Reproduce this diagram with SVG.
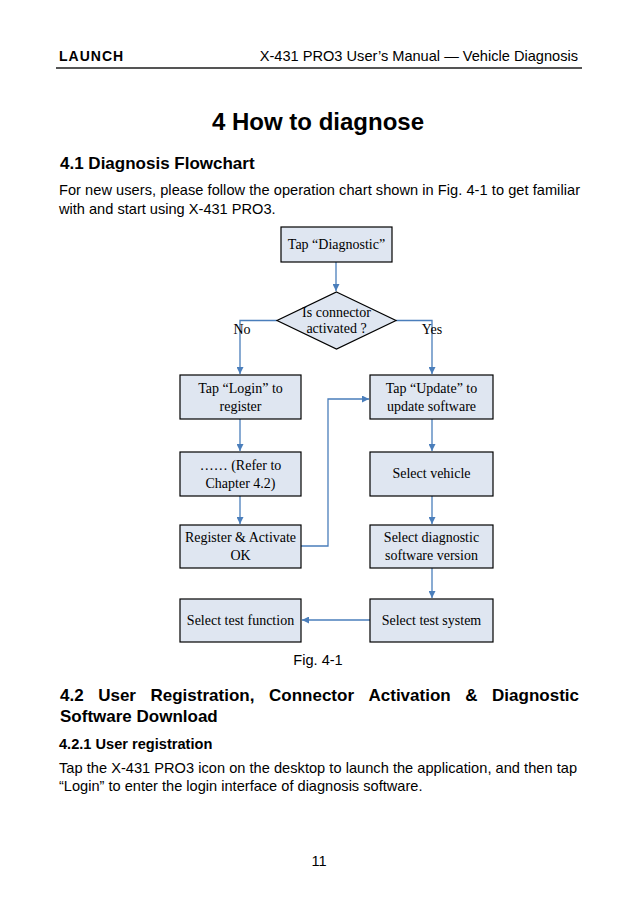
<svg xmlns="http://www.w3.org/2000/svg" width="638" height="903" viewBox="0 0 638 903">
<defs>
<marker id="ah" viewBox="0 0 10 10" refX="10" refY="5" markerWidth="7" markerHeight="7" markerUnits="userSpaceOnUse" orient="auto">
<path d="M0,0 L10,5 L0,10 z" fill="#4a7ebb"/>
</marker>
<style>
.sans{font-family:"Liberation Sans",Arial,sans-serif;fill:#000}
.b{font-weight:bold}
.box{fill:#dfe6f1;stroke:#000;stroke-width:1.2}
.lbl{font-family:"Liberation Serif","Times New Roman",serif;font-size:14px;fill:#000;text-anchor:middle}
.con{fill:none;stroke:#4a7ebb;stroke-width:1.3}
</style>
</defs>
<rect width="638" height="903" fill="#fff"/>
<text class="sans b" x="59" y="61" font-size="14" letter-spacing="1">LAUNCH</text>
<text class="sans" x="578" y="61" font-size="14.6" text-anchor="end">X-431 PRO3 User’s Manual — Vehicle Diagnosis</text>
<line x1="56" y1="68" x2="582" y2="68" stroke="#555" stroke-width="2"/>
<text class="sans b" x="318" y="130" font-size="24" text-anchor="middle">4 How to diagnose</text>
<text class="sans b" x="60" y="169" font-size="17">4.1 Diagnosis Flowchart</text>
<text class="sans" x="59" y="195" font-size="14.6" textLength="521" lengthAdjust="spacing">For new users, please follow the operation chart shown in Fig. 4-1 to get familiar</text>
<text class="sans" x="59" y="214" font-size="14.6">with and start using X-431 PRO3.</text>

<g id="connectors">
<path class="con" d="M336,262 V291" marker-end="url(#ah)"/>
<path class="con" d="M277,320.5 H240 V374" marker-end="url(#ah)"/>
<path class="con" d="M396,320.5 H432 V374" marker-end="url(#ah)"/>
<path class="con" d="M240,419 V451" marker-end="url(#ah)"/>
<path class="con" d="M240,496 V524" marker-end="url(#ah)"/>
<path class="con" d="M432,419 V451" marker-end="url(#ah)"/>
<path class="con" d="M432,496 V524" marker-end="url(#ah)"/>
<path class="con" d="M432,568 V598" marker-end="url(#ah)"/>
<path class="con" d="M370,620 H302" marker-end="url(#ah)"/>
<path class="con" d="M301,546 H328 V399 H369" marker-end="url(#ah)"/>
</g>
<g id="labels">
<text class="lbl" x="242" y="334">No</text>
<text class="lbl" x="432" y="334">Yes</text>
</g>

<g id="n-diag"><rect class="box" x="281" y="227" width="111" height="35"/><text class="lbl" x="336.5" y="249">Tap “Diagnostic”</text></g>
<g id="n-conn"><polygon class="box" points="336.5,292 396,320.5 336.5,349 277,320.5"/><text class="lbl" x="336.5" y="317">Is connector</text><text class="lbl" x="336.5" y="333">activated ?</text></g>
<g id="n-login"><rect class="box" x="180" y="375" width="121" height="44"/><text class="lbl" x="240.5" y="393">Tap “Login” to</text><text class="lbl" x="240.5" y="411">register</text></g>
<g id="n-refer"><rect class="box" x="180" y="452" width="121" height="44"/><text class="lbl" x="240.5" y="470">…… (Refer to</text><text class="lbl" x="240.5" y="488">Chapter 4.2)</text></g>
<g id="n-reg"><rect class="box" x="180" y="525" width="121" height="43"/><text class="lbl" x="240.5" y="542">Register &amp; Activate</text><text class="lbl" x="240.5" y="560">OK</text></g>
<g id="n-func"><rect class="box" x="180" y="599" width="121" height="43"/><text class="lbl" x="240.5" y="625">Select test function</text></g>
<g id="n-update"><rect class="box" x="370" y="375" width="123" height="44"/><text class="lbl" x="431.5" y="393">Tap “Update” to</text><text class="lbl" x="431.5" y="411">update software</text></g>
<g id="n-vehicle"><rect class="box" x="370" y="452" width="123" height="44"/><text class="lbl" x="431.5" y="478">Select vehicle</text></g>
<g id="n-version"><rect class="box" x="370" y="525" width="123" height="43"/><text class="lbl" x="431.5" y="542">Select diagnostic</text><text class="lbl" x="431.5" y="560">software version</text></g>
<g id="n-system"><rect class="box" x="370" y="599" width="123" height="43"/><text class="lbl" x="431.5" y="625">Select test system</text></g>

<text class="sans" x="318" y="665" font-size="14.6" text-anchor="middle">Fig. 4-1</text>
<g class="sans b" font-size="17">
<text x="60" y="701">4.2</text>
<text x="98.2" y="701">User</text>
<text x="150.5" y="701">Registration,</text>
<text x="269" y="701">Connector</text>
<text x="368.5" y="701">Activation</text>
<text x="465.3" y="701">&amp;</text>
<text x="579" y="701" text-anchor="end">Diagnostic</text>
<text x="60" y="722">Software Download</text>
</g>
<text class="sans b" x="59" y="749" font-size="14.6">4.2.1 User registration</text>
<text class="sans" x="59" y="773" font-size="14.6" textLength="518" lengthAdjust="spacing">Tap the X-431 PRO3 icon on the desktop to launch the application, and then tap</text>
<text class="sans" x="59" y="791" font-size="14.6">“Login” to enter the login interface of diagnosis software.</text>
<text class="sans" x="319" y="866" font-size="14.6" text-anchor="middle">11</text>
</svg>
